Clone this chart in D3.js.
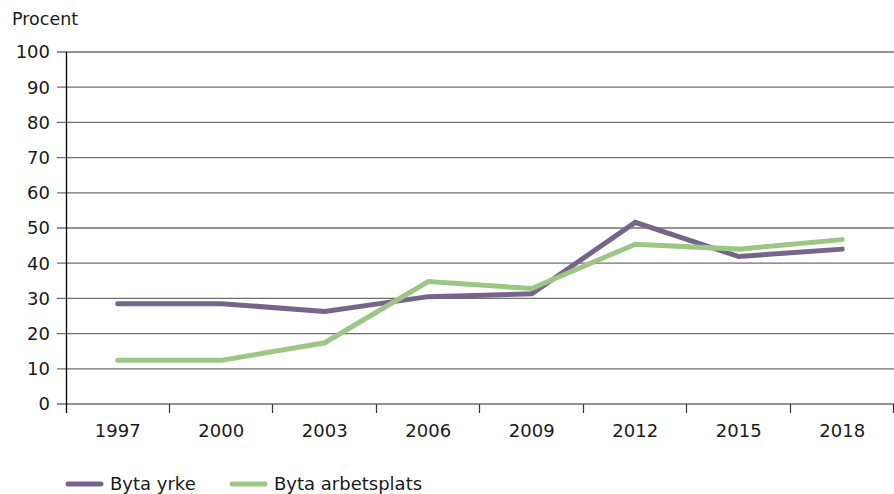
<!DOCTYPE html>
<html>
<head>
<meta charset="utf-8">
<script src="https://cdn.jsdelivr.net/npm/d3@7"></script>
<style>
  body { margin: 0; background: #fff; }
  text { font-family: "DejaVu Sans", sans-serif; fill: #1a1a1a; }
</style>
</head>
<body>
<script>
const years = ["1997", "2000", "2003", "2006", "2009", "2012", "2015", "2018"];
const bytaYrke = [28.5, 28.5, 26.3, 30.5, 31.3, 51.6, 41.9, 44.0];
const bytaArbetsplats = [12.4, 12.4, 17.4, 34.8, 32.8, 45.4, 44.0, 46.7];
const yTicks = [0, 10, 20, 30, 40, 50, 60, 70, 80, 90, 100];

function main() {
    let svg = d3.select("body").append("svg")
        .attr("width", 894)
        .attr("height", 494);

    let xScale = d3.scaleBand().domain(years).range([66, 894]);
    let yScale = d3.scaleLinear().domain([0, 100]).range([404, 52]);

    // gridlines with ticks sticking out to the left
    svg.append("g")
        .selectAll("line")
        .data(yTicks)
        .enter()
        .append("line")
        .attr("x1", 57)
        .attr("x2", 894)
        .attr("y1", d => yScale(d))
        .attr("y2", d => yScale(d))
        .attr("stroke", "#6f6f6f")
        .attr("stroke-width", 1.3);

    svg.append("g")
        .selectAll("text")
        .data(yTicks)
        .enter()
        .append("text")
        .attr("x", 50)
        .attr("y", d => yScale(d))
        .attr("dy", "0.36em")
        .attr("text-anchor", "end")
        .style("font-size", "18px")
        .text(d => d);

    // y axis line
    svg.append("line")
        .attr("x1", 66.5).attr("x2", 66.5)
        .attr("y1", yScale(100)).attr("y2", 413)
        .attr("stroke", "#000").attr("stroke-width", 1.3);

    // x ticks at band boundaries
    let bounds = years.map(d => xScale(d)).concat([xScale.range()[1]]);
    svg.append("g")
        .selectAll("line")
        .data(bounds.slice(1))
        .enter()
        .append("line")
        .attr("x1", d => Math.round(d) - 0.5)
        .attr("x2", d => Math.round(d) - 0.5)
        .attr("y1", 404)
        .attr("y2", 413)
        .attr("stroke", "#333")
        .attr("stroke-width", 1.2);

    svg.append("g")
        .selectAll("text")
        .data(years)
        .enter()
        .append("text")
        .attr("x", d => xScale(d) + xScale.bandwidth() / 2)
        .attr("y", 437)
        .attr("text-anchor", "middle")
        .style("font-size", "18px")
        .text(d => d);

    svg.append("text")
        .attr("x", 12)
        .attr("y", 25)
        .style("font-size", "17.5px")
        .text("Procent");

    let line = d3.line()
        .x((d, i) => xScale(years[i]) + xScale.bandwidth() / 2)
        .y(d => yScale(d));

    let series = [
        { name: "Byta yrke", values: bytaYrke, color: "#76658a" },
        { name: "Byta arbetsplats", values: bytaArbetsplats, color: "#9cc684" }
    ];

    series.forEach(s => {
        svg.append("path")
            .datum(s.values)
            .attr("d", line)
            .attr("fill", "none")
            .attr("stroke", s.color)
            .attr("stroke-width", 5)
            .attr("stroke-linejoin", "miter")
            .attr("stroke-linecap", "round");
    });

    // legend
    let legendX = [68, 232];
    series.forEach((s, i) => {
        svg.append("line")
            .attr("x1", legendX[i]).attr("x2", legendX[i] + 33)
            .attr("y1", 484).attr("y2", 484)
            .attr("stroke", s.color)
            .attr("stroke-width", 5)
            .attr("stroke-linecap", "round");
        svg.append("text")
            .attr("x", legendX[i] + 42)
            .attr("y", 490)
            .style("font-size", "18px")
            .text(s.name);
    });
}

main()
</script>
</body>
</html>
